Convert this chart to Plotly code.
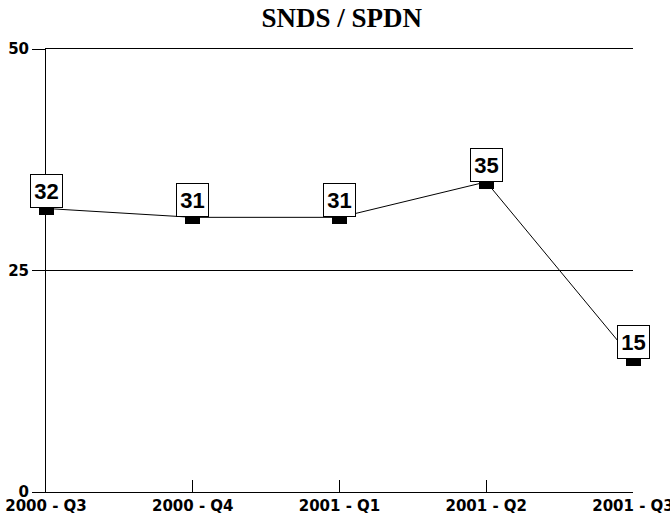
import plotly.graph_objects as go

categories = ["2000 - Q3", "2000 - Q4", "2001 - Q1", "2001 - Q2", "2001 - Q3"]
values = [32, 31, 31, 35, 15]
title_text = "SNDS / SPDN"
y_ticks = [0, 25, 50]

fig = go.Figure()
fig.add_trace(go.Scatter(
    x=categories, y=values, mode="lines",
    line=dict(color="black", width=1),
    hoverinfo="skip", showlegend=False,
))
# invisible trace on a top axis so its axis line forms the 50 gridline
fig.add_trace(go.Scatter(
    x=categories, y=values, mode="none", xaxis="x2",
    hoverinfo="skip", showlegend=False,
))

annotations = []
for c, v in zip(categories, values):
    # value label box above the point
    annotations.append(dict(
        x=c, y=v, xref="x", yref="y", text=str(v), showarrow=False,
        xanchor="center", yanchor="bottom",
        font=dict(family="Liberation Sans", size=22, color="black", weight="bold"),
        bgcolor="white", bordercolor="black", borderwidth=1, borderpad=0,
        width=31, height=32, valign="middle",
    ))
    # black block marker just under the point
    annotations.append(dict(
        x=c, y=v, xref="x", yref="y", text=" ", showarrow=False,
        xanchor="center", yanchor="top",
        font=dict(size=4, color="black"),
        bgcolor="black", borderwidth=0, borderpad=0,
        width=15, height=7,
    ))

fig.update_layout(
    width=670, height=523,
    margin=dict(l=46, r=37, t=49, b=31, autoexpand=False),
    paper_bgcolor="white", plot_bgcolor="white",
    title=dict(text=title_text, x=0.51, xanchor="center", y=0.967, yanchor="middle",
               font=dict(family="Liberation Serif", size=27, color="black", weight="bold")),
    annotations=annotations,
    xaxis=dict(
        type="category", range=[0, 4], showgrid=False, automargin=False,
        showline=True, linecolor="black", linewidth=1,
        ticks="inside", ticklen=12, tickcolor="black", tickwidth=1,
        tickfont=dict(family="DejaVu Sans", size=15, color="black", weight="bold"),
        zeroline=False,
    ),
    xaxis2=dict(
        type="category", range=[0, 4], overlaying="x", side="top", matches="x",
        showline=True, linecolor="black", linewidth=1, showticklabels=False,
        ticks="", showgrid=False, zeroline=False, automargin=False,
    ),
    yaxis=dict(
        range=[0, 50], tickvals=y_ticks, showgrid=True, gridcolor="black", gridwidth=1,
        automargin=False,
        showline=True, linecolor="black", linewidth=1,
        ticks="outside", ticklen=13, tickcolor="black", tickwidth=1,
        tickfont=dict(family="DejaVu Sans", size=15, color="black", weight="bold"),
        zeroline=False,
    ),
)

fig.write_html("out.html", config={"displayModeBar": False},
               post_script="document.body.style.margin='0px';")
